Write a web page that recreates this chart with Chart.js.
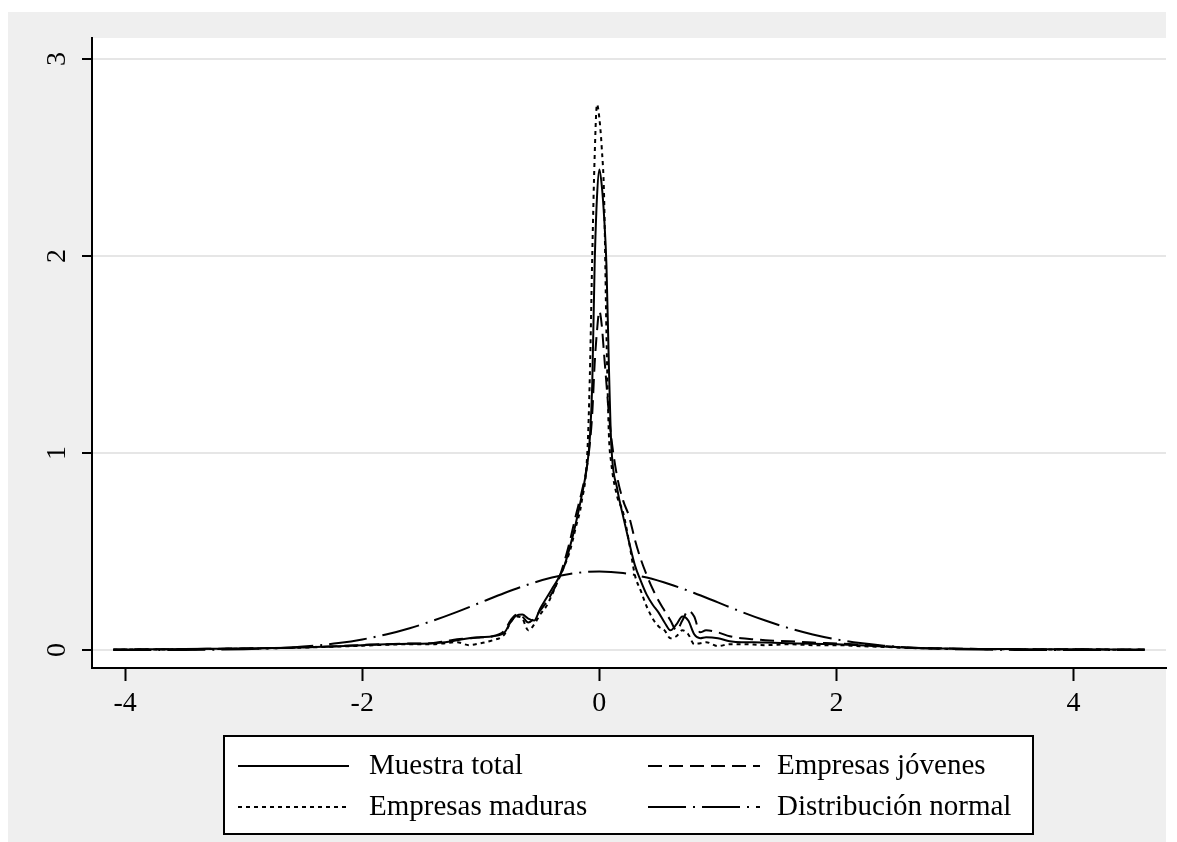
<!DOCTYPE html>
<html>
<head>
<meta charset="utf-8">
<script src="https://cdn.jsdelivr.net/npm/chart.js@4.4.1/dist/chart.umd.min.js"></script>
<style>
  html, body { margin: 0; padding: 0; background: #fff; }
  #wrap { width: 1177px; height: 842px; }
</style>
</head>
<body>
<div id="wrap"><canvas id="kd" width="1177" height="842"></canvas></div>
<script>
"use strict";

// data

const xTicks = [-4, -2, 0, 2, 4];
const yTicks = [0, 1, 2, 3];

const xs = [
  -4.1, -3.8, -3.5, -3.2, -2.9, -2.6, -2.4, -2.2, -2.0, -1.8, -1.6, -1.4,
  -1.3, -1.2, -1.1, -1.0, -0.9, -0.8, -0.75, -0.7, -0.65, -0.6, -0.55, -0.5,
  -0.45, -0.4, -0.35, -0.3, -0.25, -0.2, -0.15, -0.1, -0.08, -0.06, -0.04, -0.02,
  0, 0.02, 0.04, 0.06, 0.08, 0.1, 0.15, 0.2, 0.25, 0.3, 0.35, 0.4,
  0.45, 0.5, 0.55, 0.6, 0.65, 0.7, 0.75, 0.8, 0.85, 0.9, 1.0, 1.1,
  1.2, 1.3, 1.4, 1.6, 1.8, 2.0, 2.2, 2.4, 2.6, 2.9, 3.2, 3.5,
  3.8, 4.1, 4.4, 4.6
];

const total = [
  0.003, 0.004, 0.005, 0.007, 0.009, 0.012, 0.015, 0.02, 0.025, 0.03, 0.032, 0.035,
  0.04, 0.05, 0.06, 0.065, 0.07, 0.09, 0.14, 0.175, 0.18, 0.16, 0.15, 0.21,
  0.26, 0.31, 0.36, 0.42, 0.52, 0.64, 0.78, 0.95, 1.08, 1.35, 1.95, 2.3,
  2.44, 2.36, 2.2, 1.95, 1.45, 1.05, 0.82, 0.68, 0.55, 0.43, 0.35, 0.28,
  0.23, 0.19, 0.14, 0.1, 0.13, 0.17, 0.15, 0.08, 0.06, 0.065, 0.06, 0.045,
  0.04, 0.04, 0.038, 0.035, 0.032, 0.03, 0.025, 0.018, 0.012, 0.008, 0.006, 0.005,
  0.004, 0.004, 0.003, 0.003
];

const jovenes = [
  0.003, 0.004, 0.005, 0.007, 0.009, 0.012, 0.016, 0.02, 0.026, 0.03, 0.033, 0.036,
  0.045, 0.055, 0.06, 0.065, 0.07, 0.1, 0.15, 0.18, 0.17, 0.14, 0.16, 0.2,
  0.24, 0.29, 0.35, 0.44, 0.55, 0.68, 0.8, 0.95, 1.05, 1.2, 1.45, 1.62,
  1.72, 1.65, 1.5, 1.35, 1.2, 1.08, 0.88, 0.76, 0.68, 0.56, 0.46, 0.38,
  0.31, 0.25, 0.2, 0.15, 0.1, 0.15, 0.2, 0.17, 0.09, 0.1, 0.09, 0.07,
  0.06, 0.055, 0.05, 0.045, 0.038, 0.034, 0.028, 0.02, 0.013, 0.009, 0.006, 0.005,
  0.004, 0.004, 0.003, 0.003
];

const maduras = [
  0.002, 0.003, 0.004, 0.006, 0.008, 0.011, 0.014, 0.018, 0.022, 0.027, 0.03, 0.03,
  0.035, 0.04, 0.025, 0.035, 0.05, 0.08, 0.14, 0.17, 0.16, 0.1, 0.13, 0.18,
  0.22, 0.28, 0.35, 0.42, 0.5, 0.62, 0.75, 1.02, 1.4, 2.0, 2.5, 2.77,
  2.7, 2.55, 2.3, 1.6, 1.1, 0.95, 0.78, 0.7, 0.55, 0.38, 0.3, 0.22,
  0.16, 0.12, 0.1, 0.06, 0.07, 0.1, 0.08, 0.03, 0.035, 0.04, 0.02, 0.03,
  0.03, 0.028, 0.025, 0.03, 0.025, 0.025, 0.02, 0.016, 0.011, 0.007, 0.005, 0.004,
  0.003, 0.003, 0.002, 0.002
];

const normX = [
  -4.1, -3.8, -3.5, -3.2, -3.0, -2.8, -2.6, -2.4, -2.2, -2.0, -1.8, -1.6, -1.4, -1.2,
  -1.0, -0.8, -0.6, -0.4, -0.2, 0, 0.2, 0.4, 0.6, 0.8, 1.0, 1.2, 1.4, 1.6,
  1.8, 2.0, 2.2, 2.4, 2.6, 2.8, 3.0, 3.2, 3.5, 3.8, 4.1, 4.4, 4.6
];
const normY = [
  0.0001, 0.0003, 0.0009, 0.0024, 0.0044, 0.0079, 0.0136, 0.0224, 0.0355, 0.054, 0.079, 0.111, 0.150, 0.194,
  0.242, 0.290, 0.333, 0.368, 0.391, 0.399, 0.391, 0.368, 0.333, 0.290, 0.242, 0.194, 0.150, 0.111,
  0.079, 0.054, 0.0355, 0.0224, 0.0136, 0.0079, 0.0044, 0.0024, 0.0009, 0.0003, 0.0001, 0.00002, 0.00001
];

const labels = ['Muestra total', 'Empresas jóvenes', 'Empresas maduras', 'Distribución normal'];

const pts = (xv, yv) => xv.map((x, i) => ({x: x, y: yv[i]}));

const serif = '"Liberation Serif", "Times New Roman", serif';

// background: grey graph region + white plot region
const backdrop = {
  id: 'backdrop',
  beforeDraw(chart) {
    const {ctx, chartArea: a} = chart;
    ctx.save();
    ctx.fillStyle = '#ffffff';
    ctx.fillRect(0, 0, chart.width, chart.height);
    ctx.fillStyle = '#efefef';
    ctx.fillRect(8, 12, 1158, 830);
    ctx.fillStyle = '#ffffff';
    ctx.fillRect(a.left, a.top, a.right - a.left, a.bottom - a.top);
    ctx.restore();
  }
};

// boxed two-column key under the plot
const keyBox = {
  id: 'keyBox',
  afterDraw(chart) {
    const ctx = chart.ctx;
    ctx.save();
    ctx.fillStyle = '#ffffff';
    ctx.fillRect(224, 736, 809, 98);
    ctx.strokeStyle = '#000';
    ctx.lineWidth = 2;
    ctx.strokeRect(224, 736, 809, 98);
    const cols = [[238, 349, 369], [648, 760, 777]];
    const rows = [766, 807];
    chart.data.datasets.forEach((ds, i) => {
      const c = cols[i % 2];
      const r = rows[Math.floor(i / 2)];
      ctx.setLineDash(ds.borderDash || []);
      ctx.lineWidth = ds.borderWidth;
      ctx.beginPath();
      ctx.moveTo(c[0], r);
      ctx.lineTo(c[1], r);
      ctx.stroke();
      ctx.setLineDash([]);
      ctx.fillStyle = '#000';
      ctx.font = '29px ' + serif;
      ctx.textAlign = 'left';
      ctx.textBaseline = 'middle';
      ctx.fillText(ds.label, c[2], r);
    });
    ctx.restore();
  }
};

const line = (label, data, dash) => ({
  label: label,
  data: data,
  showLine: true,
  borderColor: '#000',
  borderWidth: 2,
  borderDash: dash,
  pointRadius: 0,
  fill: false,
  cubicInterpolationMode: 'monotone'
});

const chart = new Chart(document.getElementById('kd'), {
  type: 'scatter',
  data: {
    datasets: [
      line(labels[0], pts(xs, total), []),
      line(labels[1], pts(xs, jovenes), [14, 7]),
      line(labels[2], pts(xs, maduras), [4, 4]),
      line(labels[3], pts(normX, normY), [38, 7, 2, 7])
    ]
  },
  options: {
    responsive: false,
    animation: false,
    layout: { padding: { left: 8, top: 38, right: 11, bottom: 114 } },
    plugins: {
      legend: { display: false },
      tooltip: { enabled: false }
    },
    scales: {
      x: {
        type: 'linear',
        min: -4.28,
        max: 4.78,
        afterBuildTicks: s => { s.ticks = xTicks.map(v => ({value: v})); },
        afterFit: s => { s.height = 60; },
        grid: { drawOnChartArea: false, tickLength: 13, tickColor: '#000', tickWidth: 2 },
        border: { color: '#000', width: 2 },
        ticks: { color: '#000', font: { family: serif, size: 28 }, padding: 6, maxRotation: 0 }
      },
      y: {
        min: -0.091,
        max: 3.107,
        afterBuildTicks: s => { s.ticks = yTicks.map(v => ({value: v})); },
        afterFit: s => { s.width = 84; },
        grid: { color: '#e6e6e6', lineWidth: 2, tickLength: 10, tickColor: '#000', tickWidth: 2 },
        border: { color: '#000', width: 2 },
        ticks: { color: '#000', font: { family: serif, size: 28 }, minRotation: 90, maxRotation: 90, crossAlign: 'center', padding: 17 }
      }
    }
  },
  plugins: [backdrop, keyBox]
});
</script>
</body>
</html>
